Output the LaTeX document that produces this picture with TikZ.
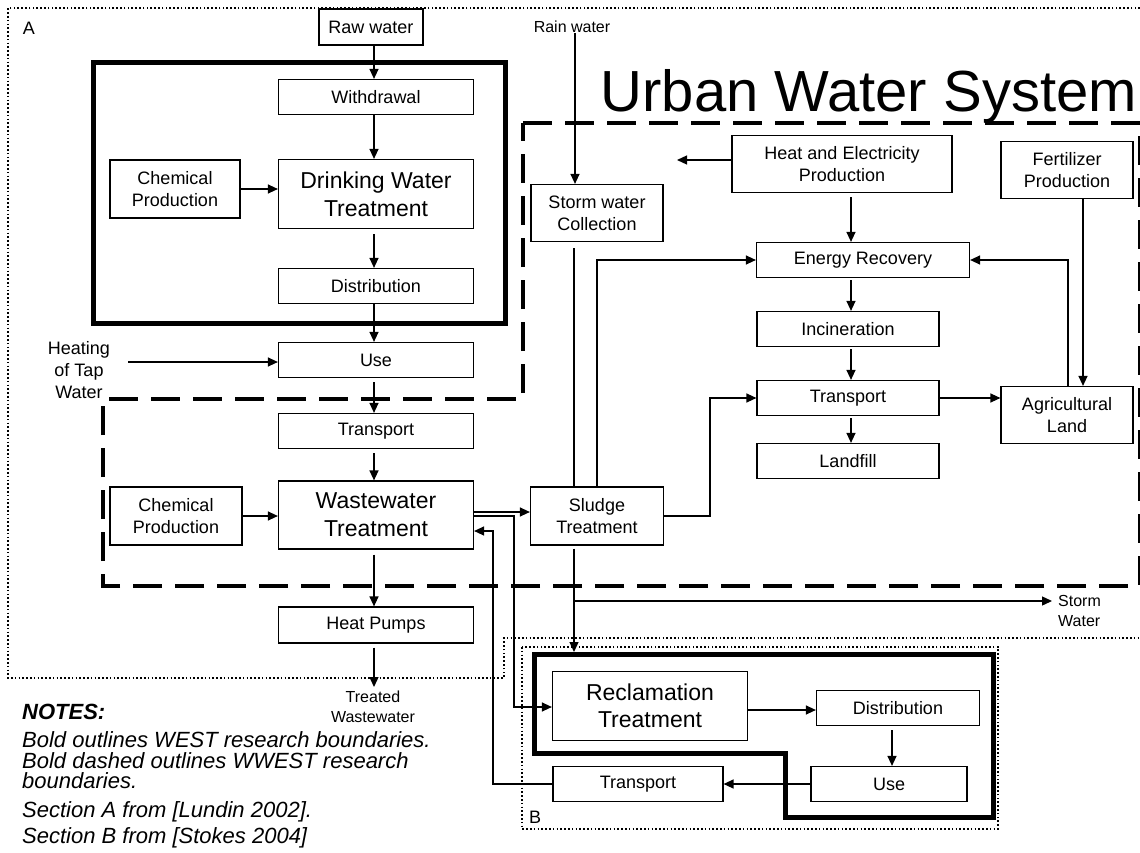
\documentclass[tikz,border=0pt]{standalone}
\usepackage{fontspec}
\setmainfont{Liberation Sans}
\usetikzlibrary{arrows.meta,calc}
\begin{document}
\begin{tikzpicture}[x=1pt,y=-1pt,
  box/.style={draw, fill=white, line width=1.2pt, inner sep=0pt, align=center, font=\fontsize{18}{22}\selectfont},
  bigbox/.style={box, font=\fontsize{23}{28}\selectfont},
  arr/.style={line width=1.3pt, -{Triangle[length=10pt,width=9pt]}},
  ln/.style={line width=1.3pt},
  dotline/.style={line width=1.6pt, dash pattern=on 1.6pt off 2.2pt},
  dashline/.style={line width=4pt, dash pattern=on 29pt off 13pt},
  boldline/.style={line width=5pt, line join=miter},
  lbl/.style={font=\fontsize{16}{20}\selectfont, align=center, inner sep=0pt},
  note/.style={anchor=west, inner sep=0pt, font=\fontsize{22}{22}\selectfont\itshape}
]
\useasboundingbox (0,0) rectangle (1140,853);
\fill[white] (0,0) rectangle (1140,853);

% boundaries
\draw[dotline] (1140,8) -- (8,8) -- (8,678) -- (504,678) -- (504,638) -- (1140,638);
\draw[dotline] (522,647) rectangle (998,829);
\draw[boldline] (93,63) rectangle (505,323);
\draw[dashline] (523,123) -- (1140,123) -- (1140,586) -- (103,586) -- (103,399) -- (523,399) -- cycle;
\draw[boldline] (534,654) -- (993,654) -- (993,817) -- (785,817) -- (785,753) -- (534,753) -- cycle;

% labels
\node[font=\fontsize{18}{20}\selectfont, inner sep=0] (labA) at (29,28) {A};
\node[font=\fontsize{18}{20}\selectfont, inner sep=0] (labB) at (535,817) {B};
\node[anchor=base east, inner sep=0, font=\fontsize{58}{60}\selectfont] (title) at (1137,112) {Urban Water System};
\node[lbl] (rain) at (572,27) {Rain water};
\node[font=\fontsize{18}{22}\selectfont, align=center, inner sep=0] (heating) at (79,370) {Heating\\of Tap\\Water};
\node[lbl] (tw) at (373,707) {Treated\\Wastewater};
\node[lbl, align=left, anchor=west] (stormlbl) at (1058,611) {Storm\\Water};

% section A boxes
\node[box, minimum width=104pt, minimum height=36pt] (raw) at (371,27) {Raw water};
\node[box, minimum width=195pt, minimum height=35pt] (wd) at (376,97) {Withdrawal};
\node[box, minimum width=130pt, minimum height=58pt] (chem1) at (175,189) {Chemical\\Production};
\node[bigbox, minimum width=195pt, minimum height=69pt] (dwt) at (376,194) {Drinking Water\\Treatment};
\node[box, minimum width=195pt, minimum height=35pt] (dist1) at (376,286) {Distribution};
\node[box, minimum width=195pt, minimum height=35pt] (use1) at (376,360) {Use};
\node[box, minimum width=195pt, minimum height=35pt] (tr1) at (376,431) {Transport};
\node[box, minimum width=132pt, minimum height=58pt] (chem2) at (176,516) {Chemical\\Production};
\node[bigbox, minimum width=195pt, minimum height=68pt] (wwt) at (376,515) {Wastewater\\Treatment};
\node[box, minimum width=195pt, minimum height=36pt] (hp) at (376,625) {Heat Pumps};

\node[box, minimum width=132pt, minimum height=57pt] (storm) at (597,213) {Storm water\\Collection};
\node[box, minimum width=220pt, minimum height=57pt] (heat) at (842,164) {Heat and Electricity\\Production};
\node[box, minimum width=132pt, minimum height=57pt] (fert) at (1067,170) {Fertilizer\\Production};
\node[box, minimum width=213pt, minimum height=35pt] (er) at (863,260) {Energy Recovery};
\node[box, minimum width=182pt, minimum height=35pt] (inc) at (848,329) {Incineration};
\node[box, minimum width=182pt, minimum height=35pt] (tr2) at (848,398) {Transport};
\node[box, minimum width=182pt, minimum height=35pt] (land) at (848,461) {Landfill};
\node[box, minimum width=132pt, minimum height=57pt] (agr) at (1067,415) {Agricultural\\Land};
\node[box, minimum width=133pt, minimum height=58pt] (sludge) at (597,516) {Sludge\\Treatment};

% section B boxes
\node[bigbox, minimum width=195pt, minimum height=69pt, font=\fontsize{23}{27}\selectfont] (recl) at (650,706) {Reclamation\\Treatment};
\node[box, minimum width=163pt, minimum height=35pt] (dist2) at (898,708) {Distribution};
\node[box, minimum width=156pt, minimum height=35pt] (use2) at (889,784) {Use};
\node[box, minimum width=170pt, minimum height=35pt] (tr3) at (638,784) {Transport};

% free ends
\coordinate (twtip) at (374,687);
\coordinate (heatleft) at (677,160);
\coordinate (heatingout) at (128,362);
\coordinate (reclin) at (574,652);
\coordinate (stormjoin) at (574,601);
\coordinate (stormtip) at (1052,601);

% connectors, left column
\draw[arr] (374,0 |- raw.south) -- (374,0 |- wd.north);
\draw[arr] (374,0 |- wd.south) -- (374,0 |- dwt.north);
\draw[arr] (chem1.east) -- (dwt.west |- chem1.east);
\draw[arr, shorten <=5pt] (374,0 |- dwt.south) -- (374,0 |- dist1.north);
\draw[arr] (374,0 |- dist1.south) -- (374,0 |- use1.north);
\draw[arr] (heatingout) -- (use1.west |- heatingout);
\draw[arr, shorten <=4pt] (374,0 |- use1.south) -- (374,0 |- tr1.north);
\draw[arr, shorten <=4pt] (374,0 |- tr1.south) -- (374,0 |- wwt.north);
\draw[arr] (chem2.east) -- (wwt.west |- chem2.east);
\draw[arr, shorten <=5pt] (374,0 |- wwt.south) -- (374,0 |- hp.north);
\draw[arr, shorten <=4pt] (374,0 |- hp.south) -- (twtip);

% centre
\draw[arr] (rain.south -| 575,0) -- (575,0 |- storm.north);
\draw[ln, shorten <=6pt] (574,0 |- storm.south) -- (574,0 |- sludge.north);
\draw[arr] (597,0 |- sludge.north) |- (er.west);
\draw[arr] (wwt.east |- 0,512) -- (sludge.west |- 0,512);
\draw[arr] (wwt.east |- 0,516) -- (514,516) -- (514,707) -- (recl.west |- 0,707);
\draw[arr] (tr3.west) -- (493,0 |- tr3.west) -- (493,531) -- (wwt.east |- 0,531);
\draw[arr, shorten <=3pt] (574,0 |- sludge.south) -- (reclin);
\draw[arr] (stormjoin) -- (stormtip);
\draw[arr] (sludge.east) -- (710,0 |- sludge.east) |- (tr2.west);

% right
\draw[arr] (heat.west |- heatleft) -- (heatleft);
\draw[arr, shorten <=4pt] (851,0 |- heat.south) -- (851,0 |- er.north);
\draw[arr, shorten <=2pt] (851,0 |- er.south) -- (851,0 |- inc.north);
\draw[arr, shorten <=2pt] (851,0 |- inc.south) -- (851,0 |- tr2.north);
\draw[arr, shorten <=2pt] (851,0 |- tr2.south) -- (851,0 |- land.north);
\draw[arr] (tr2.east) -- (agr.west |- tr2.east);
\draw[arr] (1068,0 |- agr.north) |- (er.east);
\draw[arr] (1083,0 |- fert.south) -- (1083,0 |- agr.north);

% section B
\draw[arr] (recl.east |- 0,710) -- (dist2.west |- 0,710);
\draw[arr, shorten <=4pt] (892,0 |- dist2.south) -- (892,0 |- use2.north);
\draw[arr] (use2.west) -- (tr3.east);

% notes
\node[note, font=\fontsize{22}{22}\selectfont\bfseries\itshape] (n0) at (22,712) {NOTES:};
\node[note] (n1) at (22,740) {Bold outlines WEST research boundaries.};
\node[note] (n2) at (22,761) {Bold dashed outlines WWEST research};
\node[note] (n3) at (22,781) {boundaries.};
\node[note] (n4) at (22,812) {Section A from [Lundin 2002].};
\node[note] (n5) at (22,838) {Section B from [Stokes 2004]};
\end{tikzpicture}
\end{document}
